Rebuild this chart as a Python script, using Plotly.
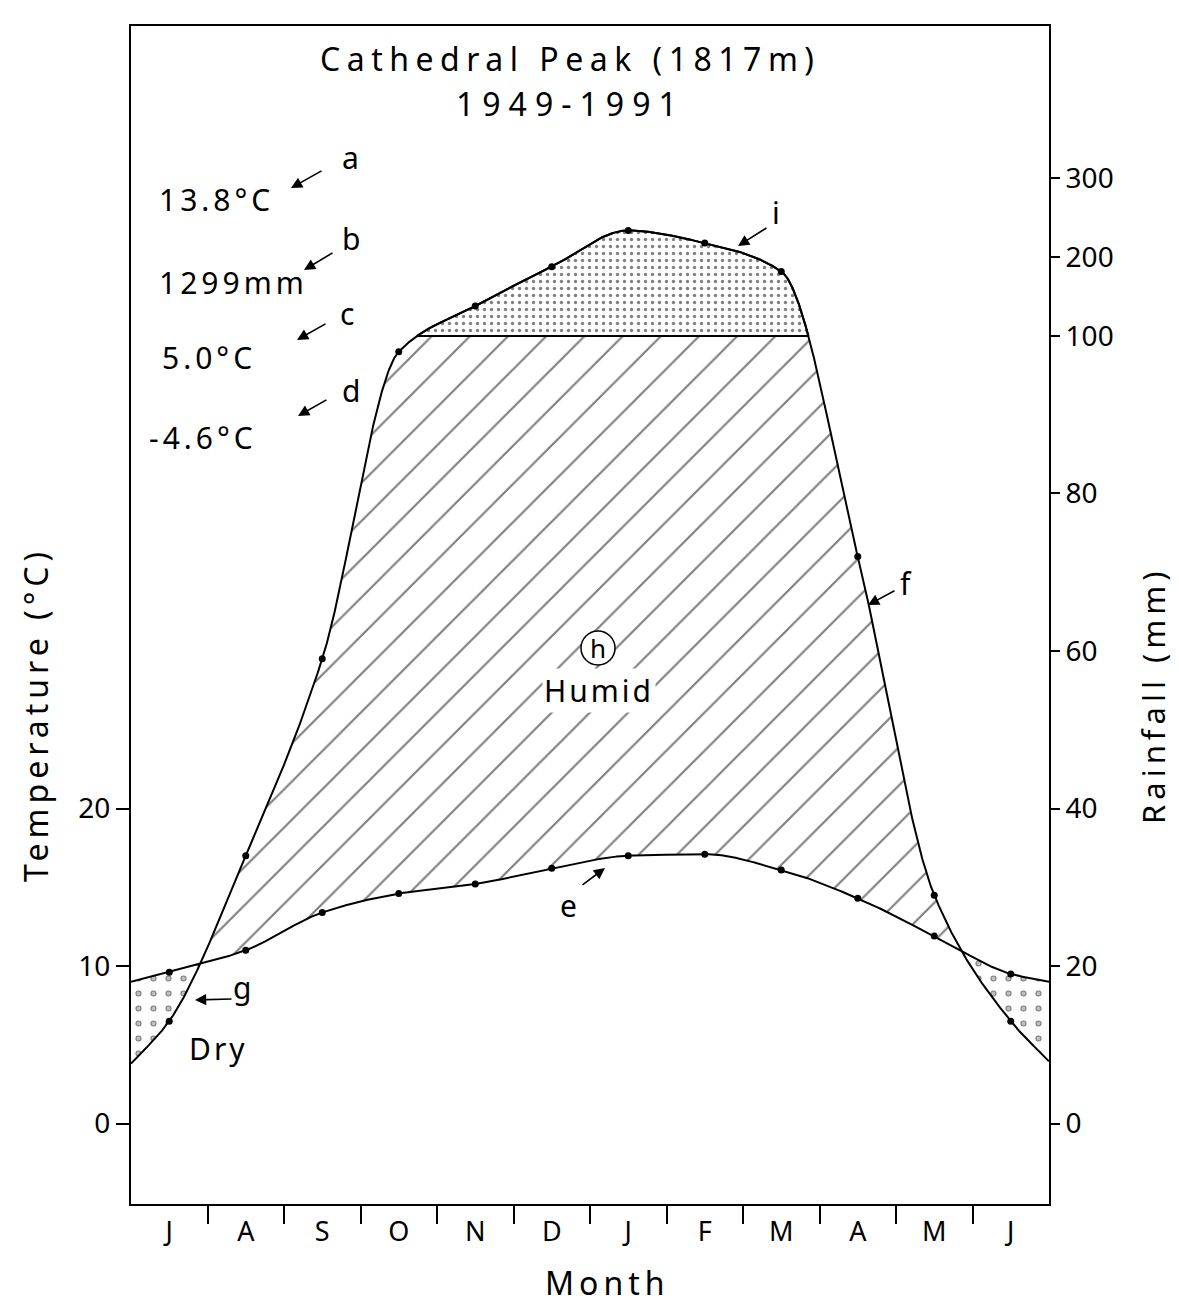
import numpy as np
import plotly.graph_objects as go

# ---------------- data ----------------
months = ["J", "A", "S", "O", "N", "D", "J", "F", "M", "A", "M", "J"]
temp_c = [9.6, 11.0, 13.4, 14.6, 15.2, 16.2, 17.0, 17.1, 16.1, 14.3, 11.9, 9.5]
rain_mm = [13, 34, 59, 98, 138, 188, 234, 218, 182, 72, 29, 13]
temp_edge_c = [9.0, 9.0]     # curve ends on the frame (June/July boundary)
rain_edge_mm = [7.6, 7.9]

temp_ticks = [0, 10, 20]
rain_ticks = [0, 20, 40, 60, 80, 100, 200, 300]

summary_keys = ["a", "b", "c", "d"]
summary_text = ["13.8°C", "1299mm", "5.0°C", "-4.6°C"]
title_lines = ["Cathedral Peak (1817m)", "1949-1991"]

# ---------------- helpers ----------------
def rain_scale(r):
    """Walter-Lieth scale: 10 degC = 20 mm, above 100 mm compressed 1:10."""
    r = np.asarray(r, float)
    s = np.where(r <= 100, r, 100 + (r - 100) / 10.0)
    return s / 2.0


def smooth(xn, yn, xg):
    """Monotone (Fritsch-Carlson) cubic Hermite curve through the nodes."""
    xn = np.asarray(xn, float)
    yn = np.asarray(yn, float)
    h = np.diff(xn)
    d = np.diff(yn) / h
    m = np.zeros_like(yn)
    for i in range(1, len(yn) - 1):
        if d[i - 1] * d[i] > 0:
            w1 = 2 * h[i] + h[i - 1]
            w2 = h[i] + 2 * h[i - 1]
            m[i] = (w1 + w2) / (w1 / d[i - 1] + w2 / d[i])
    m[0] = d[0]
    m[-1] = d[-1]
    idx = np.clip(np.searchsorted(xn, xg, side="right") - 1, 0, len(xn) - 2)
    hh = xn[idx + 1] - xn[idx]
    t = (xg - xn[idx]) / hh
    h00 = 2 * t**3 - 3 * t**2 + 1
    h10 = t**3 - 2 * t**2 + t
    h01 = -2 * t**3 + 3 * t**2
    h11 = t**3 - t**2
    return h00 * yn[idx] + h10 * hh * m[idx] + h01 * yn[idx + 1] + h11 * hh * m[idx + 1]


def segments(mask):
    idx = np.flatnonzero(mask)
    if len(idx) == 0:
        return []
    return np.split(idx, np.where(np.diff(idx) > 1)[0] + 1)


def widen(seg, n):
    lo = max(seg[0] - 1, 0)
    hi = min(seg[-1] + 1, n - 1)
    return np.arange(lo, hi + 1)


x_mid = np.arange(12) + 0.5
x_nodes = np.concatenate([[0.0], x_mid, [12.0]])
t_nodes = np.concatenate([[temp_edge_c[0]], temp_c, [temp_edge_c[1]]])
r_nodes = rain_scale(np.concatenate([[rain_edge_mm[0]], rain_mm, [rain_edge_mm[1]]]))

xg = np.linspace(0, 12, 2401)
tg = smooth(x_nodes, t_nodes, xg)
rg = smooth(x_nodes, r_nodes, xg)
cap = float(rain_scale(100))
n = len(xg)

fig = go.Figure()
NOLINE = dict(width=0, color="rgba(0,0,0,0)")

# humid (hatched) area: rain above temperature, up to 100 mm
for seg in segments(rg > tg):
    s = widen(seg, n)
    up = np.minimum(rg[s], cap)
    fig.add_trace(go.Scatter(
        x=np.concatenate([xg[s], xg[s][::-1]]),
        y=np.concatenate([up, tg[s][::-1]]),
        fill="toself", mode="lines", line=NOLINE, fillcolor="white",
        fillpattern=dict(shape="/", size=27, solidity=0.08, fgcolor="black", bgcolor="white"),
        hoverinfo="skip", showlegend=False))

# perhumid (stippled) area: rain above 100 mm
for seg in segments(rg > cap):
    s = widen(seg, n)
    fig.add_trace(go.Scatter(
        x=np.concatenate([xg[s], xg[s][::-1]]),
        y=np.concatenate([rg[s], np.full(len(s), cap)]),
        fill="toself", mode="lines", line=dict(width=2, color="black"), fillcolor="white",
        fillpattern=dict(shape=".", size=7, solidity=0.18, fgcolor="black", bgcolor="white"),
        hoverinfo="skip", showlegend=False))

# dry area: temperature above rain (small open circles)
for seg in segments(tg > rg):
    s = widen(seg, n)
    px_ = np.concatenate([xg[s], xg[s][::-1]])
    py_ = np.concatenate([tg[s], rg[s][::-1]])
    fig.add_trace(go.Scatter(
        x=px_, y=py_, fill="toself", mode="lines", line=NOLINE, fillcolor="white",
        fillpattern=dict(shape=".", size=15, solidity=0.13, fgcolor="black", bgcolor="white"),
        hoverinfo="skip", showlegend=False))
    fig.add_trace(go.Scatter(
        x=px_, y=py_, fill="toself", mode="lines", line=NOLINE, fillcolor="rgba(0,0,0,0)",
        fillpattern=dict(shape=".", size=15, solidity=0.05, fgcolor="white",
                         bgcolor="rgba(0,0,0,0)"),
        hoverinfo="skip", showlegend=False))

# curves
fig.add_trace(go.Scatter(x=xg, y=tg, mode="lines", line=dict(color="black", width=2),
                         hoverinfo="skip", showlegend=False))
fig.add_trace(go.Scatter(x=xg, y=rg, mode="lines", line=dict(color="black", width=2),
                         hoverinfo="skip", showlegend=False))
# monthly points
fig.add_trace(go.Scatter(x=x_mid, y=temp_c, mode="markers",
                         marker=dict(color="black", size=7), showlegend=False, name="Temperature"))
fig.add_trace(go.Scatter(x=x_mid, y=rain_scale(rain_mm), mode="markers", yaxis="y2",
                         marker=dict(color="black", size=7), showlegend=False, name="Rainfall"))

# ---------------- layout ----------------
BODY = 8                      # default page margin around the plot div
W, H = 1179 - BODY, 1307 - BODY
PL, PT, PW, PH = 131, 26, 918, 1178      # plot frame in page pixels
L, T = PL - BODY, PT - BODY
R, B = W - L - PW, H - T - PH
yrange = [-5.11, 69.68]
FONT = "Noto Sans"


def P(px, py):
    return (px - PL) / PW, (PT + PH - py) / PH


def spaced(s, sp):
    return '<span style="letter-spacing:%gpx">%s</span>' % (sp, s)


annotations = []


def text(px, py, s, size=28, xanchor="center", sp=0, **kw):
    x, y = P(px, py)
    annotations.append(dict(x=x, y=y, xref="paper", yref="paper",
                            text=spaced(s, sp) if sp else s, showarrow=False,
                            xanchor=xanchor, yanchor="middle",
                            font=dict(family=FONT, size=size, color="black"), **kw))


def arrow(hx, hy, tx, ty):
    x, y = P(hx, hy)
    annotations.append(dict(x=x, y=y, xref="paper", yref="paper", text="", showarrow=True,
                            ax=tx - hx, ay=ty - hy, arrowhead=2, arrowsize=1.4,
                            arrowwidth=1.6, arrowcolor="black"))


text(570, 58, title_lines[0], size=32, sp=6.5)
text(570, 103, title_lines[1], size=32, sp=8)

key_pos = [(350, 158), (351, 238), (347, 314), (351, 390)]
val_pos = [(157, 200), (157, 282), (160, 357), (147, 437)]
arr_pos = [((291, 188), (323, 170)), ((304, 270), (334, 252)),
           ((297, 340), (327, 323)), ((298, 416), (328, 399))]
for k, v, kp, vp, (hd, tl) in zip(summary_keys, summary_text, key_pos, val_pos, arr_pos):
    text(kp[0], kp[1], k, size=30)
    text(vp[0], vp[1], v, size=30, xanchor="left", sp=4)
    arrow(hd[0], hd[1], tl[0], tl[1])

text(776, 212, "i", size=30)
arrow(738, 246, 768, 227)
text(906, 583, "f", size=30)
arrow(868, 605, 896, 590)
text(568, 905, "e", size=30)
arrow(605, 868, 581, 886)
text(242, 987, "g", size=30)
arrow(195, 1000, 233, 999)
text(218, 1048, "Dry", size=30, sp=3)
text(598, 648, "h", size=26)
text(599, 690, "Humid", size=30, sp=3, bgcolor="white")

text(35, 715, "Temperature (°C)", size=32, sp=5, textangle=-90)
text(1153, 695, "Rainfall (mm)", size=31, sp=5, textangle=-90)
text(607, 1282, "Month", size=32, sp=5)

hx, hy = P(598, 648)
shapes = [dict(type="circle", xref="paper", yref="paper", xsizemode="pixel", ysizemode="pixel",
               xanchor=hx, yanchor=hy, x0=-17, x1=17, y0=-17, y1=17,
               fillcolor="white", line=dict(color="black", width=1.5), layer="above")]

fig.update_layout(
    width=W, height=H, autosize=False,
    margin=dict(l=L, r=R, t=T, b=B, pad=0),
    paper_bgcolor="white", plot_bgcolor="white",
    font=dict(family=FONT, size=26, color="black"),
    showlegend=False,
    xaxis=dict(range=[0, 12], tickmode="array", tickvals=list(x_mid), ticktext=months,
               ticks="", ticklabelstandoff=3, tickfont=dict(size=27),
               showline=True, mirror=True, linecolor="black", linewidth=2,
               showgrid=False, zeroline=False, fixedrange=True,
               minor=dict(tickmode="array", tickvals=list(range(1, 12)), ticks="outside",
                          ticklen=18, tickwidth=2, tickcolor="black", showgrid=False)),
    yaxis=dict(range=yrange, tickmode="array", tickvals=temp_ticks,
               ticktext=[str(v) for v in temp_ticks], ticks="outside", ticklen=13,
               tickwidth=2, tickcolor="black", tickfont=dict(size=28),
               showline=True, mirror=True, linecolor="black", linewidth=2,
               showgrid=False, zeroline=False, fixedrange=True),
    yaxis2=dict(range=yrange, overlaying="y", side="right", tickmode="array",
                tickvals=list(rain_scale(rain_ticks)), ticktext=[str(v) for v in rain_ticks],
                ticks="outside", ticklen=10, tickwidth=2, tickcolor="black",
                tickfont=dict(size=28), showline=False, showgrid=False, zeroline=False,
                fixedrange=True),
    annotations=annotations,
    shapes=shapes,
)

fig.write_html("out.html")
